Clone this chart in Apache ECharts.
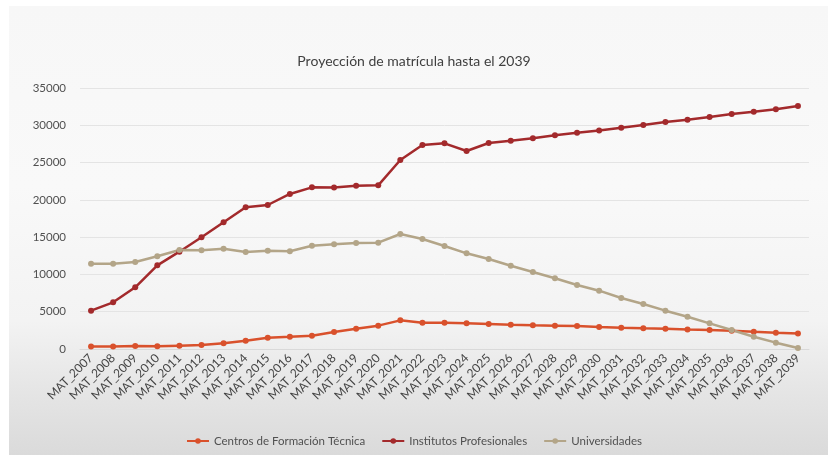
<!DOCTYPE html>
<html>
<head>
<meta charset="utf-8">
<script src="https://cdn.jsdelivr.net/npm/echarts@6/dist/echarts.min.js"></script>
<style>
html,body{margin:0;padding:0;background:#fff;}
#bg{position:absolute;left:9px;top:6px;width:819px;height:449px;
background:linear-gradient(to bottom,#f7f7f7 0%,#f9f9f9 40%,#f3f3f3 70%,#e5e5e5 86%,#dadada 100%);}
#chart{position:absolute;left:0;top:0;width:828px;height:455px;}
</style>
</head>
<body>
<div id="bg"></div>
<div id="chart"></div>
<script>
const categories = ['MAT_2007','MAT_2008','MAT_2009','MAT_2010','MAT_2011','MAT_2012','MAT_2013','MAT_2014','MAT_2015','MAT_2016','MAT_2017','MAT_2018','MAT_2019','MAT_2020','MAT_2021','MAT_2022','MAT_2023','MAT_2024','MAT_2025','MAT_2026','MAT_2027','MAT_2028','MAT_2029','MAT_2030','MAT_2031','MAT_2032','MAT_2033','MAT_2034','MAT_2035','MAT_2036','MAT_2037','MAT_2038','MAT_2039'];
const centros = [320,340,400,360,450,540,760,1110,1520,1650,1790,2280,2720,3130,3840,3520,3520,3450,3350,3250,3180,3130,3080,2950,2850,2780,2720,2620,2560,2460,2300,2170,2070];
const institutos = [5140,6260,8270,11220,13050,14980,16990,19000,19310,20790,21680,21650,21900,21950,25340,27360,27580,26550,27620,27930,28250,28650,29010,29300,29680,30040,30440,30750,31110,31510,31820,32140,32590];
const universidades = [11440,11420,11670,12430,13280,13240,13450,13010,13180,13100,13850,14060,14210,14260,15420,14750,13810,12830,12070,11170,10330,9480,8580,7820,6840,6030,5140,4330,3440,2550,1650,850,130];
const seriesNames = ['Centros de Formación Técnica','Institutos Profesionales','Universidades'];
const colors = ['#D9512C','#A32A2C','#B3A588'];

const chart = echarts.init(document.getElementById('chart'));
const font = 'Lato, "Open Sans", sans-serif';
function mk(name, data, color){
  return {name, type:'line', data, symbol:'circle', symbolSize:6,
    lineStyle:{color, width:2.5}, itemStyle:{color}, emphasis:{disabled:true}};
}
chart.setOption({
  backgroundColor:'transparent',
  animation:false,
  title:{text:'Proyección de matrícula hasta el 2039', left:'center', top:49,
    textStyle:{fontFamily:font, fontSize:14, fontWeight:'normal', color:'#404040'}},
  grid:{left:80, right:19, top:88, bottom:106},
  legend:{bottom:3, left:'center', itemGap:16, itemWidth:22, itemHeight:7,
    textStyle:{fontFamily:font, fontSize:11.5, color:'#505050'},
    data:seriesNames},
  xAxis:{type:'category', data:categories, boundaryGap:true,
    axisLine:{lineStyle:{color:'#d9d9d9'}}, axisTick:{show:false},
    axisLabel:{rotate:45, interval:0, margin:7, fontFamily:font, fontSize:12, color:'#444'}},
  yAxis:{type:'value', min:0, max:35000, interval:5000,
    axisLine:{show:false}, axisTick:{show:false},
    splitLine:{lineStyle:{color:'#e4e4e4', width:1}},
    axisLabel:{margin:14, fontFamily:font, fontSize:11.5, color:'#505050', formatter: v => String(v)}},
  series:[mk(seriesNames[0],centros,colors[0]), mk(seriesNames[1],institutos,colors[1]), mk(seriesNames[2],universidades,colors[2])]
});
</script>
</body>
</html>
